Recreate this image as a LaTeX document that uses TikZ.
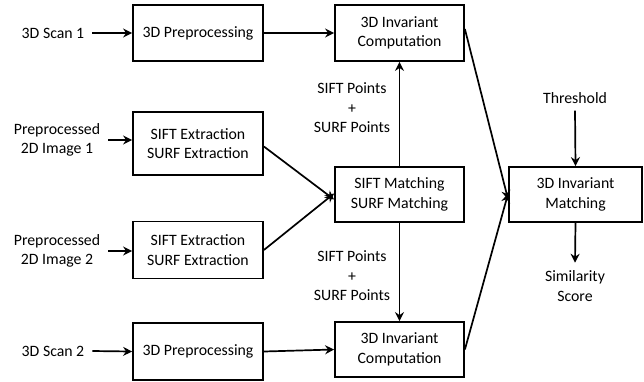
\documentclass[tikz,border=0pt]{standalone}
\usepackage{fontspec}
\setmainfont{Carlito}
\usetikzlibrary{arrows.meta,calc}
\begin{document}
\begin{tikzpicture}[x=1pt,y=-1pt,
  every node/.style={font=\fontsize{15.8}{19.5}\selectfont, align=center, inner sep=0pt},
  blk/.style={draw, line width=1.8pt, minimum width=130pt, minimum height=56pt},
  lbl/.style={outer sep=8pt},
  arr/.style={line width=1.7pt, -{Stealth[length=9pt,width=9pt,inset=3pt]}}]
\useasboundingbox (0,0) rectangle (644,381);
% boxes
\node[blk] (pre1) at (198,33) {3D Preprocessing};
\node[blk, minimum width=129pt] (inv1) at (399.5,33) {3D Invariant\\Computation};
\node[blk, minimum height=63pt] (ext1) at (198,143.5) {SIFT Extraction\\SURF Extraction};
\node[blk, minimum height=57pt] (ext2) at (198,250) {SIFT Extraction\\SURF Extraction};
\node[blk, minimum height=57pt] (pre2) at (198,351.5) {3D Preprocessing};
\node[blk, minimum width=129pt, minimum height=55pt] (match) at (399.5,194.5) {SIFT Matching\\SURF Matching};
\node[blk, minimum width=129pt, minimum height=55pt] (inv2) at (399.5,349.5) {3D Invariant\\Computation};
\node[blk, minimum width=133pt, minimum height=55pt] (invm) at (575.5,194.5) {3D Invariant\\Matching};
% labels
\node[lbl] (scan1) at (53,33) {3D Scan 1};
\node[lbl] (scan2) at (53,351) {3D Scan 2};
\node[lbl] (img1) at (57,140) {Preprocessed\\2D Image 1};
\node[lbl] (img2) at (57,251) {Preprocessed\\2D Image 2};
\node (pts1) at (352,108) {SIFT Points\\+\\SURF Points};
\node (pts2) at (352,276) {SIFT Points\\+\\SURF Points};
\node[outer sep=7pt] (thr) at (575,98) {Threshold};
\node[outer sep=8pt] (sim) at (575,286) {Similarity\\Score};
% connectors
\draw[arr] (scan1.east) -- (pre1.west);
\draw[arr] (scan2.east) -- (pre2.west);
\draw[arr] (img1.east) -- (img1.east -| ext1.west);
\draw[arr] (img2.east) -- (img2.east -| ext2.west);
\draw[arr] (pre1.east) -- (inv1.west);
\draw[arr] (pre2.east) -- (inv2.west);
\draw[arr] ([yshift=-3pt]ext1.east) -- ([yshift=-5pt]match.west);
\draw[arr] (ext2.east) -- ([yshift=1pt]match.west);
\draw[arr] (match.north) -- (inv1.south);
\draw[arr] (match.south) -- (inv2.south |- inv2.north);
\draw[arr] ([yshift=4pt]inv1.east) -- ([yshift=-5pt]invm.west);
\draw[arr] (inv2.east) -- ([yshift=1pt]invm.west);
\draw[arr] (thr.south) -- (invm.north);
\draw[arr] (invm.south) -- (sim.north);
\end{tikzpicture}
\end{document}
